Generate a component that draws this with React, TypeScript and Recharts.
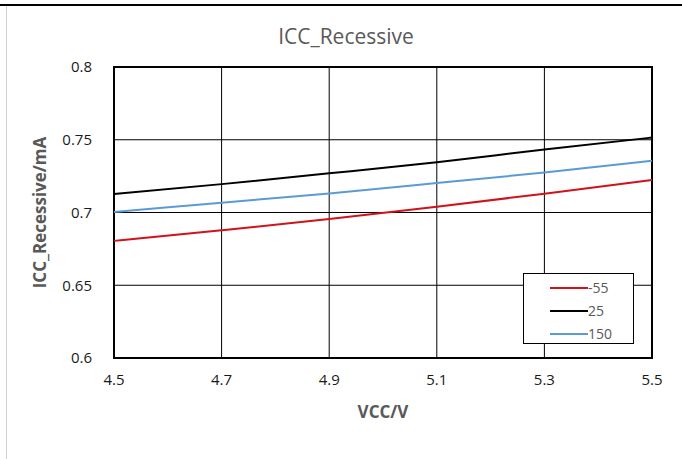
import React from 'react';
import {
  LineChart, Line, XAxis, YAxis, CartesianGrid, ReferenceArea,
} from 'recharts';

const vcc = [4.5, 4.7, 4.9, 5.1, 5.3, 5.5];
const iccM55 = [0.6805, 0.6878, 0.6955, 0.704, 0.7129, 0.7223];
const icc25 = [0.7127, 0.7195, 0.7269, 0.7346, 0.7433, 0.7515];
const icc150 = [0.7003, 0.7067, 0.7131, 0.7202, 0.7275, 0.7355];
const xTicks = [4.5, 4.7, 4.9, 5.1, 5.3, 5.5];
const yTicks = [0.6, 0.65, 0.7, 0.75, 0.8];
const seriesNames = ['-55', '25', '150'];
const seriesColors = ['#D0121B', '#000000', '#5B9BD5'];

const data = vcc.map((v, i) => ({ v, s0: iccM55[i], s1: icc25[i], s2: icc150[i] }));

const FONT = '"Open Sans", "Liberation Sans", sans-serif';

function LegendBox() {
  return (
    <div
      style={{
        position: 'absolute',
        left: 523,
        top: 273,
        width: 111,
        height: 71,
        border: '1.5px solid #000',
        background: '#fff',
        boxSizing: 'border-box',
        paddingTop: 2,
        fontFamily: FONT,
      }}
    >
      {seriesNames.map((n, i) => (
        <div key={n} style={{ display: 'flex', alignItems: 'center', height: 23 }}>
          <div style={{ marginLeft: 26, width: 38, height: 2, background: seriesColors[i] }} />
          <span style={{ fontSize: 14, color: '#595959', lineHeight: '14px' }}>{n}</span>
        </div>
      ))}
    </div>
  );
}

export default function App() {
  return (
    <div style={{ position: 'absolute', left: 0, top: 0, width: 682, height: 459, background: '#fff' }}>
      <div style={{ position: 'absolute', left: 0, top: 4, width: 682, height: 0, borderTop: '2px solid #000' }} />
      <div style={{ position: 'absolute', left: 6, top: 6, width: 0, height: 453, borderLeft: '1px solid #d0d0d0' }} />
      <div
        style={{
          position: 'absolute', left: 0, top: 22, width: 692, textAlign: 'center',
          fontFamily: FONT, fontSize: 21, color: '#595959',
        }}
      >
        ICC_Recessive
      </div>
      <div style={{ position: 'absolute', left: 0, top: 0 }}>
        <LineChart width={682} height={459} data={data} margin={{ top: 67, right: 30, bottom: 71, left: 54 }}>
          <CartesianGrid stroke="#000" strokeWidth={1} horizontal vertical />
          <XAxis
            dataKey="v"
            type="number"
            domain={[4.5, 5.5]}
            ticks={xTicks}
            tickFormatter={(t: number) => t.toFixed(1)}
            axisLine={false}
            tickLine={false}
            tickSize={0}
            tickMargin={16}
            height={30}
            tick={{ fontFamily: FONT, fontSize: 15, fill: '#1a1a1a' }}
            label={{ value: 'VCC/V', position: 'insideBottom', offset: -30, style: { fontFamily: FONT, fontSize: 17, fontWeight: 'bold', fill: '#595959' } }}
          />
          <YAxis
            type="number"
            domain={[0.6, 0.8]}
            ticks={yTicks}
            tickFormatter={(t: number) => String(Number(t.toFixed(2)))}
            axisLine={false}
            tickLine={false}
            tickSize={0}
            tickMargin={22}
            width={60}
            tick={{ fontFamily: FONT, fontSize: 15, fill: '#1a1a1a' }}
            label={{ value: 'ICC_Recessive/mA', angle: -90, position: 'center', dx: -44, style: { fontFamily: FONT, fontSize: 17, fontWeight: 'bold', fill: '#595959', textAnchor: 'middle' } }}
          />
          <ReferenceArea x1={4.5} x2={5.5} y1={0.6} y2={0.8} fill="none" stroke="#000" strokeWidth={2} ifOverflow="visible" />
          {['s0', 's1', 's2'].map((k, i) => (
            <Line
              key={k}
              type="monotone"
              dataKey={k}
              name={seriesNames[i]}
              stroke={seriesColors[i]}
              strokeWidth={2}
              dot={false}
              isAnimationActive={false}
            />
          ))}
        </LineChart>
      </div>
      <LegendBox />
    </div>
  );
}
